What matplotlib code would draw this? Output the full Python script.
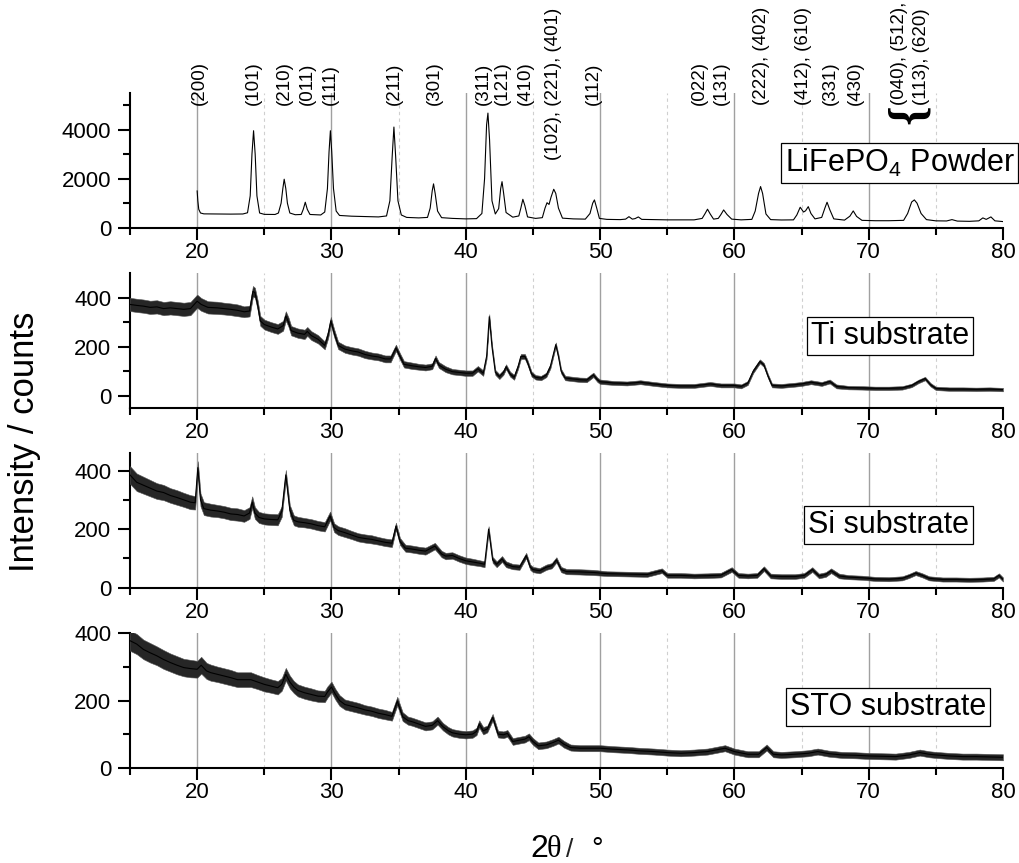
"""Stacked XRD patterns: LiFePO4 powder reference and films on Ti, Si and STO."""

import matplotlib.pyplot as plt

plt.rcParams["font.family"] = ["Liberation Sans", "DejaVu Sans"]
plt.rcParams["mathtext.fontset"] = "custom"
plt.rcParams["mathtext.rm"] = "Liberation Sans"

# --- data ---
powder_2theta = [
    20.00, 20.05, 20.12, 20.25, 20.5, 21.5, 22.5, 23.4, 23.75, 23.95, 24.08, 24.2, 24.32,
    24.45, 24.65, 25.0, 25.8, 26.05, 26.25, 26.38, 26.48, 26.6, 26.72, 26.9, 27.3, 27.75,
    27.9, 28.05, 28.2, 28.4, 29.2, 29.5, 29.7, 29.82, 29.92, 30.02, 30.15, 30.35, 30.6,
    31.5, 32.5, 33.5, 34.1, 34.35, 34.52, 34.65, 34.78, 34.95, 35.2, 35.6, 36.5, 37.15,
    37.35, 37.5, 37.6, 37.72, 37.9, 38.2, 39.0, 40.0, 40.8, 41.2, 41.4, 41.55, 41.65,
    41.77, 41.95, 42.2, 42.45, 42.6, 42.7, 42.82, 43.0, 43.5, 43.95, 44.1, 44.25, 44.4,
    44.6, 45.2, 45.7, 45.9, 46.05, 46.2, 46.35, 46.55, 46.7, 46.9, 47.2, 48.0, 48.9,
    49.25, 49.45, 49.58, 49.75, 49.95, 50.5, 51.5, 51.9, 52.15, 52.4, 52.6, 52.85, 53.1,
    54.0, 55.0, 56.0, 57.0, 57.6, 57.8, 58.0, 58.2, 58.45, 58.8, 59.0, 59.2, 59.45, 59.8,
    60.5, 61.3, 61.55, 61.8, 61.95, 62.1, 62.35, 62.7, 63.5, 64.4, 64.65, 64.9, 65.15,
    65.3, 65.5, 65.7, 66.0, 66.5, 66.75, 66.9, 67.1, 67.4, 68.2, 68.6, 68.85, 69.1, 69.5,
    70.5, 71.5, 72.6, 72.9, 73.2, 73.4, 73.6, 73.9, 74.3, 75.0, 75.8, 76.2, 76.6, 77.5,
    78.2, 78.5, 78.75, 79.1, 79.4, 80.0,
]
powder_counts = [
    1500, 1100, 750, 600, 565, 560, 555, 560, 610, 1300, 3000, 3960, 3000,
    1300, 600, 545, 540, 600, 1000, 1600, 1980, 1600, 1000, 600, 530, 540,
    750, 1040, 750, 540, 520, 640, 1600, 3100, 3960, 3100, 1600, 680, 500,
    470, 455, 440, 480, 1100, 2900, 4110, 2900, 1100, 520, 420, 400, 420,
    800, 1500, 1790, 1400, 680, 410, 380, 360, 370, 580, 2000, 4200, 4680,
    3600, 1100, 560, 780, 1600, 1880, 1400, 620, 430, 480, 800, 1160, 900,
    440, 380, 410, 800, 1020, 950, 1250, 1570, 1400, 800, 390, 360, 350,
    580, 1000, 1135, 800, 380, 340, 330, 350, 450, 350, 370, 440, 340,
    330, 320, 320, 320, 380, 560, 755, 560, 350, 380, 540, 725, 540, 350,
    320, 340, 680, 1400, 1680, 1400, 560, 330, 315, 320, 520, 835, 640,
    690, 860, 580, 360, 420, 820, 1040, 740, 360, 310, 470, 685, 460, 300,
    285, 285, 300, 580, 1050, 1135, 1000, 580, 330, 280, 275, 330, 270, 260,
    280, 400, 340, 440, 280, 250,
]

ti_2theta = [
    15.0, 15.5, 16.0, 16.5, 17.0, 17.5, 18.0, 18.5, 19.0, 19.5, 20.0, 20.3, 20.8, 21.5,
    22.0, 22.5, 23.0, 23.5, 23.9, 24.15, 24.3, 24.5, 24.7, 25.0, 25.5, 26.0, 26.4, 26.6,
    26.8, 27.0, 27.5, 28.0, 28.2, 28.5, 29.0, 29.5, 29.75, 29.95, 30.2, 30.5, 31.0, 31.5,
    32.0, 32.5, 33.0, 33.5, 34.0, 34.4, 34.8, 35.1, 35.4, 36.0, 36.5, 37.0, 37.5, 37.75,
    38.0, 38.5, 39.0, 39.5, 40.0, 40.5, 40.9, 41.3, 41.55, 41.75, 41.95, 42.2, 42.5, 42.8,
    43.0, 43.3, 43.6, 43.9, 44.1, 44.4, 44.6, 44.9, 45.2, 45.6, 46.0, 46.3, 46.7, 46.9,
    47.1, 47.4, 48.0, 48.5, 49.0, 49.5, 49.8, 50.0, 51.0, 52.0, 53.0, 54.0, 55.0, 56.0,
    57.0, 58.2, 59.0, 60.0, 60.5, 61.0, 61.4, 61.9, 62.2, 62.5, 62.8, 63.5, 64.5, 65.0,
    65.7, 66.5, 67.1, 67.6, 68.5, 69.5, 70.5, 71.5, 72.5, 73.2, 73.7, 74.2, 74.6, 75.0,
    76.0, 77.0, 78.0, 79.0, 80.0,
]
ti_counts = [
    372, 368, 365, 360, 362, 355, 358, 355, 352, 355, 385, 372, 360, 358,
    355, 352, 348, 342, 345, 425, 420, 370, 305, 290, 280, 272, 285, 325,
    300, 265, 255, 250, 262, 245, 230, 205, 250, 305, 255, 205, 190, 183,
    178, 168, 162, 158, 150, 150, 195, 160, 128, 122, 118, 115, 120, 152,
    125, 108, 98, 95, 92, 92, 110, 92, 160, 322, 200, 95, 78, 95,
    118, 88, 75, 120, 160, 160, 135, 88, 75, 72, 85, 120, 208, 160,
    100, 72, 68, 65, 64, 85, 65, 57, 52, 50, 55, 48, 42, 40,
    40, 48, 42, 42, 38, 52, 100, 140, 125, 80, 42, 40, 45, 48,
    55, 48, 58, 38, 33, 32, 30, 30, 32, 42, 58, 70, 45, 30,
    27, 27, 26, 27, 25,
]
ti_noise = [
    27, 27, 27, 27, 27, 27, 27, 27, 27, 27, 27, 26, 25, 25,
    24, 24, 24, 22, 22, 22, 20, 20, 20, 20, 20, 20, 20, 19,
    19, 19, 19, 19, 18, 18, 17, 16, 16, 16, 16, 15, 15, 15,
    15, 15, 14, 14, 14, 14, 13, 13, 13, 13, 12, 12, 12, 12,
    12, 12, 11, 11, 11, 11, 11, 11, 10, 10, 10, 10, 10, 10,
    10, 10, 10, 10, 10, 10, 10, 10, 9, 9, 9, 9, 9, 9,
    9, 9, 9, 9, 9, 9, 9, 9, 8, 8, 8, 8, 8, 8,
    8, 8, 8, 8, 8, 8, 8, 8, 8, 8, 8, 8, 8, 8,
    8, 8, 8, 8, 7, 7, 7, 7, 7, 7, 7, 7, 7, 7,
    7, 7, 7, 7, 7,
]

si_2theta = [
    15.0, 15.5, 16.0, 16.5, 17.0, 17.5, 18.0, 18.5, 19.0, 19.5, 19.85, 20.05, 20.25, 20.5,
    21.0, 21.5, 22.0, 22.5, 23.0, 23.5, 23.9, 24.1, 24.3, 24.6, 25.0, 25.5, 26.0, 26.3,
    26.6, 26.9, 27.2, 27.5, 28.0, 28.5, 29.0, 29.5, 29.9, 30.2, 30.5, 31.0, 31.5, 32.0,
    32.5, 33.0, 33.5, 34.0, 34.5, 34.8, 35.1, 35.5, 36.0, 36.5, 37.0, 37.7, 38.2, 38.5,
    39.0, 39.5, 40.0, 40.5, 41.0, 41.4, 41.7, 42.0, 42.3, 42.7, 43.0, 43.5, 44.0, 44.5,
    44.8, 45.0, 45.5, 46.0, 46.4, 46.75, 47.1, 47.5, 48.5, 49.5, 50.5, 51.5, 52.5, 53.5,
    54.6, 55.0, 56.0, 57.0, 58.0, 59.0, 59.8, 60.3, 61.0, 61.7, 62.2, 62.7, 63.5, 64.5,
    65.2, 65.8, 66.3, 66.8, 67.2, 67.8, 68.5, 69.5, 70.5, 71.5, 72.5, 73.0, 73.5, 74.0,
    74.5, 75.5, 76.5, 77.5, 78.5, 79.3, 79.7, 80.0,
]
si_counts = [
    385, 360, 350, 340, 330, 325, 315, 308, 300, 292, 290, 410, 300, 270,
    265, 262, 258, 252, 250, 245, 255, 292, 255, 240, 235, 233, 232, 260,
    385, 265, 230, 225, 222, 218, 212, 208, 245, 205, 195, 188, 180, 172,
    168, 165, 160, 155, 152, 210, 158, 135, 132, 128, 125, 142, 115, 108,
    110, 100, 92, 88, 84, 80, 200, 95, 80, 98, 80, 72, 70, 110,
    70, 62, 58, 70, 75, 95, 62, 55, 54, 52, 48, 47, 46, 45,
    58, 42, 42, 40, 41, 43, 62, 42, 40, 42, 65, 40, 38, 38,
    42, 62, 40, 45, 58, 40, 36, 34, 30, 29, 32, 40, 50, 42,
    32, 28, 28, 27, 28, 30, 42, 28,
]
si_noise = [
    30, 30, 29, 28, 27, 26, 25, 25, 24, 24, 23, 22, 22, 22,
    22, 21, 21, 21, 21, 20, 20, 20, 20, 19, 19, 19, 19, 18,
    17, 17, 17, 17, 16, 16, 16, 16, 15, 15, 15, 15, 14, 14,
    14, 14, 13, 13, 13, 12, 12, 12, 12, 12, 12, 11, 11, 11,
    11, 11, 11, 11, 10, 10, 10, 10, 10, 10, 10, 9, 9, 9,
    9, 9, 9, 9, 9, 9, 9, 9, 9, 9, 8, 8, 8, 8,
    8, 8, 8, 8, 8, 8, 8, 8, 8, 8, 8, 8, 8, 8,
    8, 8, 8, 8, 8, 8, 7, 7, 7, 7, 7, 7, 7, 7,
    7, 7, 7, 7, 7, 7, 7, 7,
]

sto_2theta = [
    15.0, 15.5, 16.0, 16.5, 17.0, 17.5, 18.0, 18.5, 19.0, 19.5, 20.0, 20.3, 20.7, 21.0,
    21.5, 22.0, 22.5, 23.0, 23.5, 24.0, 24.5, 25.0, 25.5, 26.0, 26.3, 26.6, 26.9, 27.2,
    27.5, 28.0, 28.5, 29.0, 29.5, 29.7, 30.0, 30.3, 30.6, 31.0, 31.5, 32.0, 32.5, 33.0,
    33.5, 34.0, 34.5, 34.9, 35.3, 35.7, 36.0, 36.5, 37.0, 37.5, 37.9, 38.3, 38.7, 39.0,
    39.5, 40.0, 40.5, 40.8, 41.0, 41.3, 41.6, 42.0, 42.4, 42.8, 43.1, 43.5, 44.0, 44.4,
    44.7, 45.0, 45.4, 46.0, 46.5, 46.9, 47.3, 47.8, 48.5, 50.0, 51.0, 52.0, 53.0, 54.0,
    55.0, 56.0, 57.0, 58.0, 59.3, 60.0, 61.0, 61.8, 62.4, 62.9, 63.5, 64.5, 65.5, 66.2,
    67.0, 68.0, 69.0, 70.0, 71.0, 72.0, 73.0, 73.8, 74.5, 75.0, 76.0, 77.0, 78.0, 79.0,
    80.0,
]
sto_counts = [
    378, 368, 352, 342, 333, 322, 313, 305, 298, 295, 293, 305, 288, 283,
    278, 273, 268, 262, 262, 262, 255, 248, 243, 238, 248, 278, 255, 240,
    230, 223, 218, 213, 212, 225, 240, 218, 200, 188, 183, 178, 172, 168,
    162, 158, 153, 198, 152, 140, 137, 130, 123, 126, 140, 122, 110, 104,
    100, 98, 100, 108, 130, 110, 115, 150, 100, 98, 102, 78, 82, 85,
    92, 78, 65, 68, 75, 82, 70, 60, 58, 58, 55, 53, 50, 48,
    45, 43, 45, 48, 58, 48, 40, 40, 60, 40, 38, 40, 43, 48,
    42, 38, 37, 35, 34, 33, 38, 45, 40, 38, 35, 33, 33, 32,
    31,
]
sto_noise = [
    30, 30, 29, 29, 28, 28, 27, 27, 26, 26, 25, 25, 24, 24,
    23, 23, 23, 22, 22, 22, 21, 21, 20, 20, 19, 19, 19, 18,
    18, 18, 18, 17, 17, 17, 16, 16, 16, 15, 15, 15, 14, 14,
    14, 14, 13, 13, 13, 12, 12, 12, 12, 12, 12, 11, 11, 11,
    11, 11, 11, 11, 11, 11, 10, 10, 10, 10, 10, 10, 10, 10,
    10, 10, 10, 10, 10, 10, 10, 9, 9, 9, 9, 9, 9, 9,
    9, 9, 9, 9, 9, 9, 9, 9, 9, 9, 9, 9, 9, 9,
    9, 9, 9, 9, 9, 9, 9, 9, 9, 9, 9, 9, 9, 9,
    9,
]

hkl_labels = [
    "(200)", "(101)", "(210)", "(011)", "(111)", "(211)", "(301)", "(311)", "(121)",
    "(410)", "(102), (221), (401)", "(112)", "(022)", "(131)", "(222), (402)",
    "(412), (610)", "(331)", "(430)", "(040), (512),", "(113), (620)",
]
hkl_2theta = [
    20.14, 24.18, 26.47, 28.23, 29.94, 34.66, 37.64, 41.31, 42.75,
    44.41, 46.52, 49.50, 57.39, 59.06, 62.03,
    65.14, 67.12, 68.98, 72.33, 73.95,
]

# --- layout (pixels of the 1019x863 output) ---
W, H, DPI = 1019, 863, 100
AX_LEFT, AX_RIGHT = 130, 1003
PANEL_TOPS = [93, 273, 453, 633.3]
PANEL_BOTTOMS = [227.7, 408, 587.7, 767.7]

HKL_BASE = 5025
HKL_BASE_LOW = 2775
TICK_FS = 16
BOX_FS = 22


def panel_rect(top, bottom):
    return [AX_LEFT / W, 1 - bottom / H, (AX_RIGHT - AX_LEFT) / W, (bottom - top) / H]


def style_axis(ax, ylim, yticks, yminor):
    ax.set_xlim(15, 80)
    ax.set_ylim(*ylim)
    ax.set_xticks(range(20, 81, 10))
    ax.set_xticks(range(15, 80, 10), minor=True)
    ax.set_yticks(yticks)
    ax.set_yticks(yminor, minor=True)
    for side in ("top", "right"):
        ax.spines[side].set_visible(False)
    for side in ("left", "bottom"):
        ax.spines[side].set_linewidth(1.5)
    ax.tick_params(which="major", direction="out", length=8.5, width=1.5,
                   labelsize=TICK_FS, pad=5)
    ax.tick_params(axis="x", which="major", pad=1.5)
    ax.tick_params(which="minor", direction="out", length=5, width=1.5)
    for x in range(20, 80, 10):
        ax.axvline(x, color="#a0a0a0", lw=1.0, zorder=0)
    for x in range(25, 80, 10):
        ax.axvline(x, color="#cfcfcf", lw=0.8, ls=(0, (3, 3)), zorder=0)
    ax.set_facecolor("none")


def boxed_label(ax, x, y, text):
    ax.text(x, y, text, ha="center", va="center", fontsize=BOX_FS, zorder=6,
            bbox=dict(boxstyle="square,pad=0.13", fc="white", ec="black", lw=0.9))


def noisy_trace(ax, x, counts, noise):
    low = [c - n for c, n in zip(counts, noise)]
    high = [c + n for c, n in zip(counts, noise)]
    ax.fill_between(x, low, high, color="#262626", lw=0.4, ec="#555555", zorder=3)
    ax.plot(x, counts, color="black", lw=0.8, zorder=4)


fig = plt.figure(figsize=(W / DPI, H / DPI), dpi=DPI)
axes = [fig.add_axes(panel_rect(t, b)) for t, b in zip(PANEL_TOPS, PANEL_BOTTOMS)]

# LiFePO4 powder
ax = axes[0]
style_axis(ax, (0, 5500), [0, 2000, 4000], [1000, 3000, 5000])
ax.plot(powder_2theta, powder_counts, color="black", lw=0.8, zorder=4)
for label, pos in zip(hkl_labels, hkl_2theta):
    base = HKL_BASE_LOW if label.startswith("(102)") else HKL_BASE
    ax.text(pos, base, label, rotation=90, ha="center", va="bottom",
            fontsize=13.5, clip_on=False, zorder=5)
ax.text(73.1, 4620, "{", rotation=90, ha="center", va="center", fontsize=36,
        fontweight="bold", family="Liberation Serif", clip_on=False, zorder=5)
boxed_label(ax, 72.3, 2650, "LiFePO$_\\mathregular{4}$ Powder")

# Ti substrate
ax = axes[1]
style_axis(ax, (-50, 500), [0, 200, 400], [100, 300])
noisy_trace(ax, ti_2theta, ti_counts, ti_noise)
boxed_label(ax, 71.59, 245, "Ti substrate")

# Si substrate
ax = axes[2]
style_axis(ax, (0, 460), [0, 200, 400], [100, 300])
noisy_trace(ax, si_2theta, si_counts, si_noise)
boxed_label(ax, 71.48, 214, "Si substrate")

# STO substrate
ax = axes[3]
style_axis(ax, (0, 400), [0, 200, 400], [100, 300])
noisy_trace(ax, sto_2theta, sto_counts, sto_noise)
boxed_label(ax, 71.44, 182, "STO substrate")

fig.text(25 / W, 1 - 441.5 / H, "Intensity / counts", rotation=90,
         ha="center", va="center", fontsize=25)

# x axis title "2θ / °" built from pieces, the theta is a serif glyph
base_y = 1 - 857 / H
fig.text(530 / W, base_y, "2", fontsize=23, va="baseline")
fig.text(547 / W, base_y, "θ", fontsize=22, va="baseline", family="Liberation Serif")
fig.text(566 / W, base_y, "/", fontsize=19, va="baseline", color="#222222")
fig.text(591 / W, base_y, "°", fontsize=21, va="baseline")

fig.savefig("out.png", dpi=DPI, facecolor="white")
